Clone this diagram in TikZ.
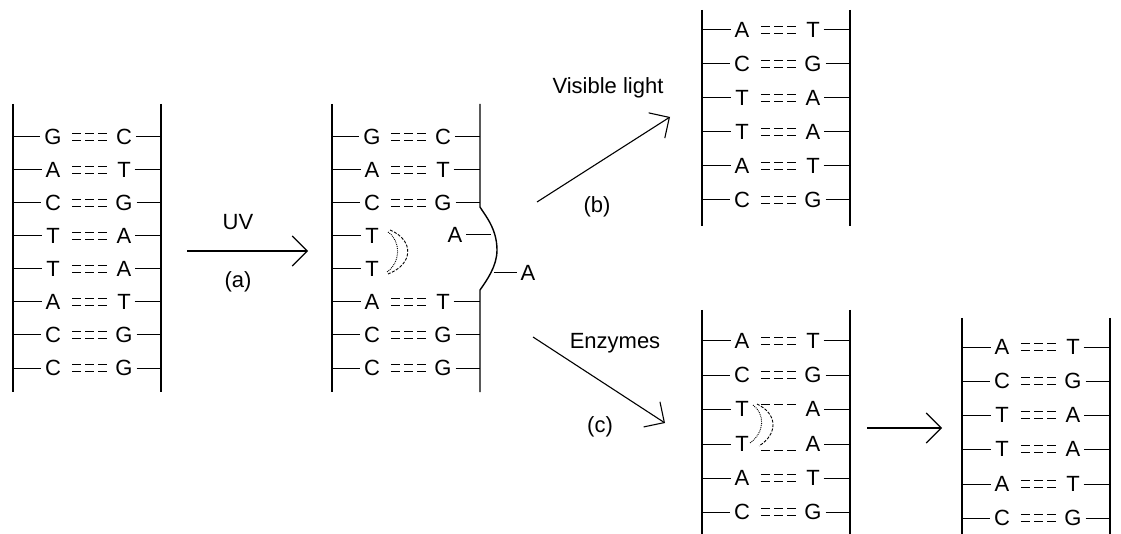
\documentclass[tikz,border=0pt]{standalone}
\usepackage{fontspec}
\setmainfont{Liberation Sans}
\usetikzlibrary{arrows.meta}

% one base pair: id, x of left rail, y, left base, right base, kind of bond
% (0 = double dashed, 1 = upper dash only, 2 = lower dash only, 3 = none)
\newcommand\basepair[6]{%
  \coordinate (#1L) at (#2,#3);
  \coordinate (#1R) at (#2+148,#3);
  \node[base] (#1a) at (#2+40,#3) {#4};
  \node[base] (#1b) at (#2+111,#3) {#5};
  \draw[rung] (#1L) -- (#1a);
  \draw[rung] (#1b) -- (#1R);
  \ifcase#6
    \draw[bond] ([shift={(59,-3.5)}]#1L) -- ++(35,0);
    \draw[bond] ([shift={(59,3.5)}]#1L) -- ++(35,0);
  \or
    \draw[bond] ([shift={(59,-5)}]#1L) -- ++(35,0);
  \or
    \draw[bond] ([shift={(59,6)}]#1L) -- ++(35,0);
  \or
  \fi
}
% a base on the left strand with no partner
\newcommand\lonebase[4]{%
  \coordinate (#1L) at (#2,#3);
  \node[base] (#1a) at (#2+40,#3) {#4};
  \draw[rung] (#1L) -- (#1a);
}

\begin{document}
\begin{tikzpicture}[x=1pt,y=-1pt,
  base/.style={font=\fontsize{22}{26}\selectfont,inner sep=0.5pt,outer sep=3.5pt},
  lbl/.style={font=\fontsize{22}{26}\selectfont,inner sep=0pt},
  rail/.style={line width=1.4pt},
  rung/.style={line width=1pt},
  bond/.style={line width=1pt,dash pattern=on 9pt off 4pt},
  arr/.style={line width=1.1pt,-{Straight Barb[length=15pt,width=30pt,line width=1.1pt]}},
  dimerin/.style={line width=0.9pt,densely dotted},
  dimerout/.style={line width=0.9pt,dash pattern=on 3pt off 1.5pt}]
\useasboundingbox (0,0) rectangle (1121,534);

% ---- intact DNA ----
\draw[rail] (13,104) -- (13,392);
\draw[rail] (161,104) -- (161,392);
\basepair{p1}{13}{137}{G}{C}{0}
\basepair{p2}{13}{170}{A}{T}{0}
\basepair{p3}{13}{203}{C}{G}{0}
\basepair{p4}{13}{236}{T}{A}{0}
\basepair{p5}{13}{269}{T}{A}{0}
\basepair{p6}{13}{302}{A}{T}{0}
\basepair{p7}{13}{335}{C}{G}{0}
\basepair{p8}{13}{368}{C}{G}{0}

% ---- UV step ----
\coordinate (uvS) at (187,251);
\coordinate (uvE) at (308,251);
\draw[arr] (uvS) -- (uvE);
\node[lbl] (uv) at (238,222) {UV};
\node[lbl] (la) at (238,282) {(a)};

% ---- thymine dimer ----
\draw[rail] (332,104) -- (332,392);
\draw[rail] (480,104) -- (480,207)
  .. controls (484,214) and (497,228) .. (497,250)
  .. controls (497,266) and (487,280) .. (480,290) -- (480,392);
\basepair{q1}{332}{137}{G}{C}{0}
\basepair{q2}{332}{170}{A}{T}{0}
\basepair{q3}{332}{203}{C}{G}{0}
\lonebase{q4}{332}{236}{T}
\lonebase{q5}{332}{269}{T}
\basepair{q6}{332}{302}{A}{T}{0}
\basepair{q7}{332}{335}{C}{G}{0}
\basepair{q8}{332}{368}{C}{G}{0}
\coordinate (bumpA) at (491,235);
\coordinate (bumpB) at (494,273);
\node[base] (qA1) at (455,235) {A};
\node[base] (qA2) at (528,273) {A};
\draw[rung] (qA1) -- (bumpA);
\draw[rung] (bumpB) -- (qA2);
\draw[dimerin] (388,232) .. controls (401,241) and (401,262) .. (387,272);
\draw[dimerout] (390,230) .. controls (414,240) and (414,264) .. (388,274);

% ---- (b) photoreactivation ----
\coordinate (vlS) at (537,202);
\coordinate (vlE) at (670,117);
\draw[arr] (vlS) -- (vlE);
\node[lbl] (vl) at (608,88) {Visible light};
\node[lbl] (lb) at (597,207) {(b)};

\draw[rail] (702,10) -- (702,226);
\draw[rail] (850,10) -- (850,226);
\basepair{r1}{702}{30}{A}{T}{0}
\basepair{r2}{702}{64}{C}{G}{0}
\basepair{r3}{702}{98}{T}{A}{0}
\basepair{r4}{702}{132}{T}{A}{0}
\basepair{r5}{702}{166}{A}{T}{0}
\basepair{r6}{702}{200}{C}{G}{0}

% ---- (c) enzymatic repair ----
\coordinate (enS) at (533,337);
\coordinate (enE) at (665,423);
\draw[arr] (enS) -- (enE);
\node[lbl] (en) at (615,343) {Enzymes};
\node[lbl] (lc) at (600,427) {(c)};

\draw[rail] (702,310) -- (702,534);
\draw[rail] (850,310) -- (850,534);
\basepair{s1}{702}{341}{A}{T}{0}
\basepair{s2}{702}{375}{C}{G}{0}
\basepair{s3}{702}{409}{T}{A}{1}
\basepair{s4}{702}{444}{T}{A}{2}
\basepair{s5}{702}{478}{A}{T}{0}
\basepair{s6}{702}{512}{C}{G}{0}
\draw[dimerin] (753,405) .. controls (765,414) and (765,432) .. (750,443);
\draw[dimerout] (757,404) .. controls (778,414) and (778,434) .. (759,446);

\coordinate (fxS) at (867,428);
\coordinate (fxE) at (942,428);
\draw[arr] (fxS) -- (fxE);

\draw[rail] (962,318) -- (962,534);
\draw[rail] (1110,318) -- (1110,534);
\basepair{t1}{962}{347}{A}{T}{0}
\basepair{t2}{962}{381}{C}{G}{0}
\basepair{t3}{962}{415}{T}{A}{0}
\basepair{t4}{962}{449}{T}{A}{0}
\basepair{t5}{962}{484}{A}{T}{0}
\basepair{t6}{962}{518}{C}{G}{0}
\end{tikzpicture}
\end{document}
